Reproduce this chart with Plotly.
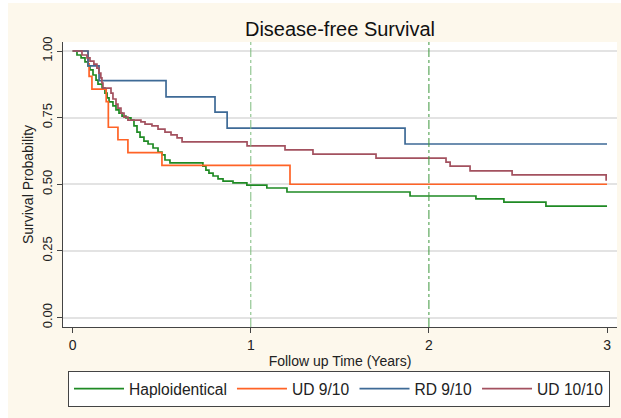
import plotly.graph_objects as go

# ---- data (years, survival probability) ----
haplo_t = [0, 0.024, 0.047, 0.069, 0.086, 0.097, 0.114, 0.131, 0.142, 0.165, 0.181, 0.193, 0.204,
           0.226, 0.243, 0.260, 0.277, 0.299, 0.327, 0.344, 0.361, 0.378, 0.400, 0.423, 0.451,
           0.479, 0.501, 0.518, 0.546, 0.731, 0.748, 0.765, 0.788, 0.816, 0.844, 0.900, 0.978,
           1.090, 1.203, 1.894, 2.264, 2.421, 2.657, 3.0]
haplo_s = [1.0, 0.985, 0.974, 0.959, 0.944, 0.929, 0.910, 0.891, 0.876, 0.861, 0.842, 0.824, 0.809,
           0.794, 0.779, 0.767, 0.756, 0.749, 0.741, 0.719, 0.696, 0.677, 0.662, 0.651, 0.636,
           0.621, 0.610, 0.591, 0.580, 0.568, 0.553, 0.542, 0.531, 0.520, 0.512, 0.505, 0.497,
           0.486, 0.471, 0.456, 0.445, 0.433, 0.418, 0.418]

ud9_t = [0, 0.086, 0.092, 0.108, 0.188, 0.200, 0.254, 0.310, 0.501, 1.220, 3.0]
ud9_s = [1.0, 0.952, 0.905, 0.857, 0.810, 0.714, 0.667, 0.619, 0.571, 0.500, 0.500]

rd9_t = [0, 0.086, 0.148, 0.524, 0.799, 0.867, 1.866, 3.0]
rd9_s = [1.0, 0.944, 0.889, 0.828, 0.771, 0.711, 0.651, 0.651]

ud10_t = [0, 0.052, 0.080, 0.097, 0.119, 0.136, 0.147, 0.158, 0.164, 0.170, 0.215, 0.226,
          0.243, 0.254, 0.271, 0.288, 0.310, 0.383, 0.406, 0.445, 0.479, 0.518, 0.552, 0.586,
          0.614, 0.979, 1.192, 1.349, 1.703, 2.096, 2.119, 2.231, 2.467, 2.995, 3.0]
ud10_s = [1.0, 0.985, 0.974, 0.962, 0.951, 0.936, 0.917, 0.899, 0.880, 0.861, 0.842, 0.820,
          0.801, 0.786, 0.767, 0.752, 0.741, 0.734, 0.726, 0.719, 0.707, 0.696, 0.685, 0.674,
          0.659, 0.644, 0.629, 0.613, 0.598, 0.583, 0.568, 0.550, 0.535, 0.516, 0.516]

series_names = ["Haploidentical", "UD 9/10", "RD 9/10", "UD 10/10"]
series_colors = ["#1F8A24", "#FF6326", "#3E6A96", "#A3515F"]
y_ticks = [0, 0.25, 0.5, 0.75, 1.0]
y_tick_text = ["0.00", "0.25", "0.50", "0.75", "1.00"]
x_ticks = [0, 1, 2, 3]
ref_years = [1, 2]

W, H = 621, 418
ML, MR, MT, MB = 63, 4, 42, 91
PW, PH = W - ML - MR, H - MT - MB

def px_to_paper_x(px):
    return (px - ML) / PW

def px_to_paper_y(py):
    return (H - MB - py) / PH

fig = go.Figure()
for t, s, name, col in zip([haplo_t, ud9_t, rd9_t, ud10_t],
                           [haplo_s, ud9_s, rd9_s, ud10_s],
                           series_names, series_colors):
    fig.add_trace(go.Scatter(x=t, y=s, mode="lines", name=name,
                             line=dict(color=col, width=1.7, shape="hv")))

cream = "#FDF8EC"
shapes = [
    dict(type="rect", xref="paper", yref="paper", layer="below",
         x0=px_to_paper_x(8), x1=px_to_paper_x(W + 2), y0=px_to_paper_y(H + 2), y1=px_to_paper_y(3),
         fillcolor=cream, line=dict(width=0)),
    dict(type="rect", xref="paper", yref="paper", layer="below",
         x0=0, x1=1, y0=0, y1=1, fillcolor="white", line=dict(width=0)),
]
for yr, c in zip(ref_years, ["#7DBB7D", "#3C963C"]):
    shapes.append(dict(type="line", xref="x", yref="paper", x0=yr, x1=yr, y0=0, y1=1,
                       line=dict(color=c, width=1, dash="dashdot"), layer="above"))

fig.update_layout(
    width=W, height=H,
    margin=dict(l=ML, r=MR, t=MT, b=MB),
    paper_bgcolor="white", plot_bgcolor="rgba(0,0,0,0)",
    font=dict(family="Liberation Sans, Arial, sans-serif", color="#222"),
    title=dict(text="Disease-free Survival", x=(ML + PW / 2) / W, xanchor="center",
               y=1 - 29 / H, yanchor="middle", font=dict(size=20, color="#111")),
    shapes=shapes,
    xaxis=dict(range=[-0.0545, 3.056], tickvals=x_ticks, showgrid=False, zeroline=False,
               showline=True, linecolor="#444", linewidth=1, ticks="outside", ticklen=5,
               tickcolor="#444", tickfont=dict(size=14),
               title=dict(text="Follow up Time (Years)", font=dict(size=14), standoff=4)),
    yaxis=dict(range=[-0.0356, 1.0338], tickvals=y_ticks, ticktext=y_tick_text, tickangle=-90,
               showgrid=True, gridcolor="#E3E3E3", gridwidth=1.5, zeroline=False,
               showline=True, linecolor="#444", linewidth=1, ticks="outside", ticklen=5,
               tickcolor="#444", tickfont=dict(size=13),
               title=dict(text="Survival Probability", font=dict(size=14), standoff=2)),
    legend=dict(orientation="h", x=px_to_paper_x(68), y=px_to_paper_y(371),
                xanchor="left", yanchor="top", bgcolor="white", bordercolor="#444",
                borderwidth=1, font=dict(size=15.6), itemwidth=50, tracegroupgap=0),
    showlegend=True,
)

fig.write_html("out.html")
